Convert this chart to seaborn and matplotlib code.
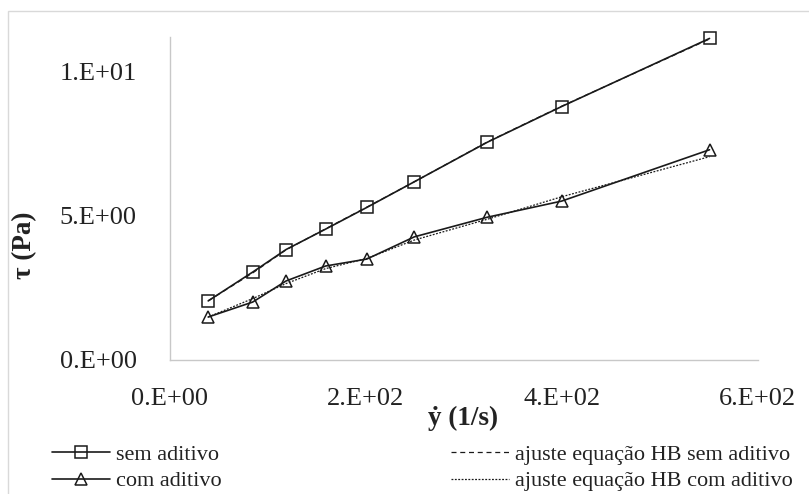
import matplotlib
matplotlib.use("Agg")
import matplotlib.pyplot as plt
import seaborn as sns
import numpy as np
import pandas as pd
from matplotlib.lines import Line2D
from matplotlib.patches import Rectangle

# ---- data ----
shear_rate = [39, 84.5, 118.5, 159, 201, 249.5, 324, 400, 551]
tau_sem = [2.05, 3.05, 3.83, 4.54, 5.29, 6.18, 7.55, 8.79, 11.15]
tau_com = [1.49, 2.01, 2.74, 3.26, 3.50, 4.27, 4.95, 5.51, 7.29]
fit_sem = [2.05, 3.02, 3.82, 4.55, 5.30, 6.18, 7.56, 8.80, 11.13]
fit_com = [1.49, 2.13, 2.65, 3.17, 3.52, 4.16, 4.88, 5.66, 7.05]

x_ticks = [0, 200, 400, 600]
x_tick_labels = ["0.E+00", "2.E+02", "4.E+02", "6.E+02"]
y_ticks = [0, 5, 10]
y_tick_labels = ["0.E+00", "5.E+00", "1.E+01"]

labels = ["sem aditivo", "com aditivo",
          "ajuste equação HB sem aditivo", "ajuste equação HB com aditivo"]

sns.set_theme(style="white")
plt.rcParams['font.family'] = ['Liberation Serif', 'DejaVu Serif']

W, H = 809, 494
fig = plt.figure(figsize=(W / 100, H / 100), dpi=100)
ax = fig.add_axes([170 / W, 1 - 360 / H, (757.5 - 170) / W, (360 - 37) / H])

ink = "#1a1a1a"
sns.lineplot(x=shear_rate, y=fit_sem, ax=ax, color=ink, lw=0.9,
             linestyle=(0, (4, 3)), clip_on=False)
sns.lineplot(x=shear_rate, y=fit_com, ax=ax, color=ink, lw=0.9,
             linestyle=(0, (1.5, 1.2)), clip_on=False)
sns.lineplot(x=shear_rate, y=tau_sem, ax=ax, color=ink, lw=1.2,
             marker="s", markersize=8, markerfacecolor="none",
             markeredgecolor=ink, markeredgewidth=1.1, clip_on=False)
sns.lineplot(x=shear_rate, y=tau_com, ax=ax, color=ink, lw=1.2,
             marker="^", markersize=8, markerfacecolor="none",
             markeredgecolor=ink, markeredgewidth=1.1, clip_on=False)

ax.set_xlim(0, 600)
ax.set_ylim(0, 11.2)
ax.set_xticks(x_ticks)
ax.set_xticklabels(x_tick_labels)
ax.set_yticks(y_ticks)
ax.set_yticklabels(y_tick_labels)
ax.tick_params(axis="both", labelsize=19, length=0, colors="#222222")
ax.tick_params(axis="x", pad=20)
ax.tick_params(axis="y", pad=24)
for s in ["top", "right"]:
    ax.spines[s].set_visible(False)
for s in ["left", "bottom"]:
    ax.spines[s].set_color("#c8c8c8")
    ax.spines[s].set_linewidth(1.0)
ax.grid(False)

fig.text(463 / W, 1 - 418 / H, "ẏ (1/s)", ha="center", va="center",
         fontsize=19.5, fontweight="bold", color="#222222")
fig.text(25 / W, 1 - 245 / H, "τ (Pa)", ha="center", va="center",
         rotation=90, fontsize=19.5, fontweight="bold", color="#222222")

# frame of chart area
fig.patches.append(Rectangle((8 / W, -0.1), 1.2, 1 - 11 / H + 0.1,
                             transform=fig.transFigure, fill=False,
                             edgecolor="#d9d9d9", lw=1.0))

h_sem = Line2D([], [], color=ink, lw=1.2, marker="s", markersize=8,
               markerfacecolor="none", markeredgewidth=1.1)
h_com = Line2D([], [], color=ink, lw=1.2, marker="^", markersize=8,
               markerfacecolor="none", markeredgewidth=1.1)
h_fs = Line2D([], [], color=ink, lw=0.9, linestyle=(0, (4, 3)))
h_fc = Line2D([], [], color=ink, lw=0.9, linestyle=(0, (1.5, 1.2)))

leg_kw = dict(frameon=False, fontsize=16, handlelength=2.6,
              handletextpad=0.3, labelspacing=0.28, borderpad=0,
              borderaxespad=0, labelcolor="#222222")
l1 = fig.legend([h_sem, h_com], labels[:2], loc="upper left",
                bbox_to_anchor=(52 / W, 1 - 444 / H), **leg_kw)
l2 = fig.legend([h_fs, h_fc], labels[2:], loc="upper left",
                bbox_to_anchor=(451 / W, 1 - 444 / H), **leg_kw)

fig.savefig("out.png", dpi=100)
